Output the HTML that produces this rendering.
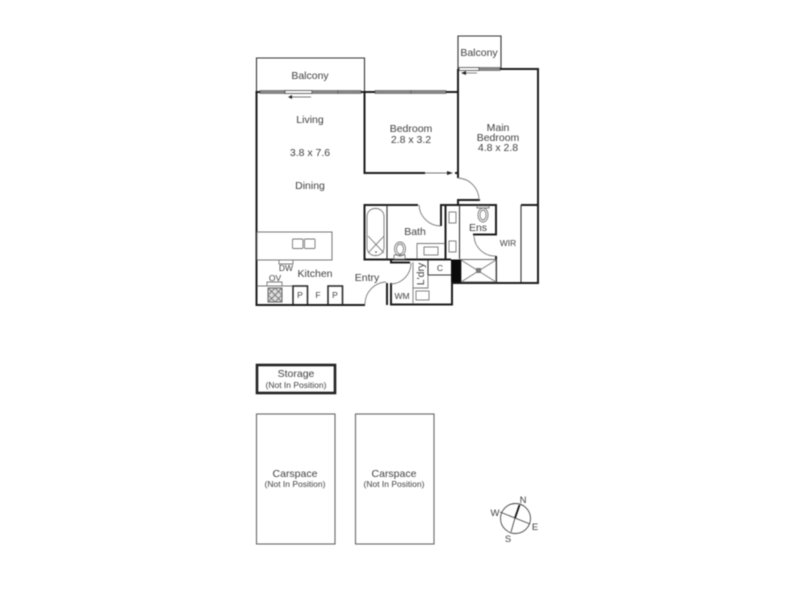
<!DOCTYPE html>
<html>
<head>
<meta charset="utf-8">
<style>
html,body{margin:0;padding:0;background:#fff;width:800px;height:600px;overflow:hidden}
svg{display:block}
text{font-family:"Liberation Sans",sans-serif;fill:#404040;text-anchor:middle;font-size:10.5px}
.s{font-size:8.5px}
.t{font-size:8.5px}
.c{font-size:9.5px}
.k{fill:none;stroke:#1c1c1c;stroke-width:2}
.m{fill:none;stroke:#333;stroke-width:1.1}
.g{fill:none;stroke:#777;stroke-width:.9}
.w{fill:#8a8a8a;stroke:#555;stroke-width:.6}
</style>
</head>
<body>
<svg width="800" height="600" viewBox="0 0 800 600" xmlns="http://www.w3.org/2000/svg">
<g style="filter:blur(.45px)">
<!-- balconies -->
<path class="m" d="M256.500 92V58H364.500V92"/>
<path class="m" d="M458 69V36H501V69"/>
<!-- windows -->
<rect class="w" x="260" y="90.500" width="25" height="3"/>
<rect x="285" y="90.500" width="27" height="3" fill="#fff" stroke="#444" stroke-width=".8"/>
<rect class="w" x="312" y="90.500" width="26" height="3"/>
<rect class="w" x="338" y="90.500" width="23" height="3"/>
<rect class="w" x="375" y="90.500" width="36" height="3"/>
<rect class="w" x="411" y="90.500" width="35" height="3"/>
<rect x="459" y="67.500" width="20" height="3" fill="#fff" stroke="#444" stroke-width=".8"/>
<rect class="w" x="479" y="67.500" width="21" height="3"/>
<!-- window arrows -->
<path class="g" d="M292 97H311"/><path d="M288 97l4-2v4z" fill="#222"/>
<path class="g" d="M466 73H477"/><path d="M461 73l5-2v4z" fill="#222"/>
<!-- main walls -->
<path class="k" d="M256.500 91V305H365"/>
<path class="k" d="M256 92H260M361 92H375M364.500 92V173H425"/>
<path class="k" d="M446 92H458M458 69V178M500 69H538V283H451"/>
<path class="k" d="M455 173H458M457 200H480M458 200V205"/>
<path class="g" d="M425 173H452"/><path d="M447 171l6 2-6 2z" fill="#222"/>
<path class="g" d="M458 178A22 22 0 0 1 479 200"/>
<!-- bath block -->
<path class="k" d="M418 205H364.500V259.500H451"/>
<path class="k" d="M441 226V205H496V234.500H473M445.500 205V259M496 256V283"/>
<path class="m" d="M459.500 205V259"/>
<path class="g" d="M419 205A22 22 0 0 0 441 226"/>
<path class="g" d="M474 236A21 21 0 0 0 496 256"/>
<!-- bath tub -->
<path class="m" d="M387 205V259"/>
<rect class="g" x="367" y="208.500" width="17" height="47" rx="8"/>
<path class="g" d="M368 236L384 253M384 236L368 253"/>
<circle cx="376" cy="252" r=".8" fill="#333"/>
<!-- toilet bath -->
<ellipse class="g" cx="400" cy="249" rx="5.500" ry="7"/>
<ellipse class="g" cx="400" cy="249" rx="3.500" ry="5"/>
<rect class="g" x="394" y="255" width="11" height="4"/>
<!-- vanity -->
<path class="g" d="M417 259V243.500H445"/>
<rect class="g" x="424" y="247" width="14" height="8"/>
<!-- cupboard sinks -->
<rect class="g" x="449" y="212" width="7" height="11"/>
<rect class="g" x="449" y="241" width="7" height="11"/>
<!-- ens toilet -->
<ellipse class="g" cx="483" cy="215" rx="5" ry="7"/>
<ellipse class="g" cx="483" cy="215" rx="3" ry="5"/>
<path class="g" d="M477 206H489V208H477z"/>
<!-- shower -->
<rect x="461" y="259.500" width="35" height="22.500" fill="#fff" stroke="#555" stroke-width=".9"/>
<path class="g" d="M461 260L496 282M496 260L461 282"/>
<rect x="476" y="268" width="5" height="5" fill="#777"/>
<rect x="451" y="259.500" width="10" height="23" fill="#0a0a0a"/>
<!-- WIR -->
<path class="k" d="M521 205H538"/>
<path class="m" d="M521 205V282"/>
<!-- laundry/entry -->
<path class="k" d="M391 259.500V262.500H410"/>
<path class="k" d="M387 283V305M391 283V304.500H452V282"/>
<path class="g" d="M411 263A21 21 0 0 1 391 284"/>
<path class="g" d="M365 304A22 22 0 0 1 386 282"/>
<path class="m" d="M428 260V275H451"/>
<path class="g" d="M428 275V288H413V304M413 288V262"/>
<rect class="g" x="416" y="291" width="13" height="9"/>
<!-- kitchen -->
<rect x="257" y="232" width="75" height="28" fill="#fff" stroke="#666" stroke-width=".9"/>
<rect class="g" x="292.500" y="239" width="10.500" height="9.500" rx="1"/>
<rect class="g" x="304.500" y="239" width="10.500" height="9.500" rx="1"/>
<path class="g" d="M279 260V264H293V260"/>
<path class="g" d="M257 286H293"/>
<path class="g" d="M267 286V282H282V286"/>
<rect x="268" y="288" width="14" height="14" fill="#ddd" stroke="#555" stroke-width=".9"/>
<path class="g" d="M268 288L282 302M282 288L268 302M275 288L282 295L275 302L268 295Z"/>
<path d="M293 304V286H307.500V304M328 304V286H342.500V304" fill="none" stroke="#222" stroke-width="1.500"/>
<!-- storage/carspace -->
<rect x="257" y="365" width="78" height="28" fill="none" stroke="#222" stroke-width="2.600"/>
<rect x="256.500" y="414" width="78.500" height="130" fill="none" stroke="#666" stroke-width="1.100"/>
<rect x="355.500" y="414" width="78.500" height="130" fill="none" stroke="#666" stroke-width="1.100"/>
<!-- compass -->
<circle cx="515.500" cy="518.500" r="15" fill="none" stroke="#444" stroke-width=".9"/>
<path d="M500 512L530 524" stroke="#444" stroke-width=".9" fill="none"/>
<path d="M519.500 505L515 518" stroke="#111" stroke-width="1.800" fill="none"/>
<path d="M515 518L511 532" stroke="#444" stroke-width=".9" fill="none"/>
<!-- labels -->
<text x="310" y="79">Balcony</text>
<text x="479" y="56">Balcony</text>
<text x="310" y="123">Living</text>
<text x="310" y="156">3.8 x 7.6</text>
<text x="310" y="189">Dining</text>
<text x="411" y="132">Bedroom</text>
<text x="411" y="143">2.8 x 3.2</text>
<text x="498" y="131">Main</text>
<text x="498" y="141">Bedroom</text>
<text x="498" y="151">4.8 x 2.8</text>
<text x="415" y="235">Bath</text>
<text x="478" y="231">Ens</text>
<text class="t" x="508" y="246">WIR</text>
<text x="315" y="277">Kitchen</text>
<text x="367" y="281">Entry</text>
<text class="t" x="286" y="271">DW</text>
<text class="t" x="275" y="281">OV</text>
<text class="t" x="300" y="298">P</text>
<text class="t" x="318" y="298">F</text>
<text class="t" x="335" y="298">P</text>
<text class="t" x="402" y="299">WM</text>
<text class="t" x="440" y="271">C</text>
<text x="0" y="0" transform="translate(424 274) rotate(-90)">L'dry</text>
<text x="296" y="377">Storage</text>
<text class="s" x="296" y="388">(Not In Position)</text>
<text x="295" y="477">Carspace</text>
<text class="s" x="295" y="487">(Not In Position)</text>
<text x="394" y="477">Carspace</text>
<text class="s" x="394" y="487">(Not In Position)</text>
<text class="c" x="523" y="503">N</text>
<text class="c" x="495" y="516">W</text>
<text class="c" x="535" y="530">E</text>
<text class="c" x="508" y="542">S</text>
</g>
</svg>
</body>
</html>
